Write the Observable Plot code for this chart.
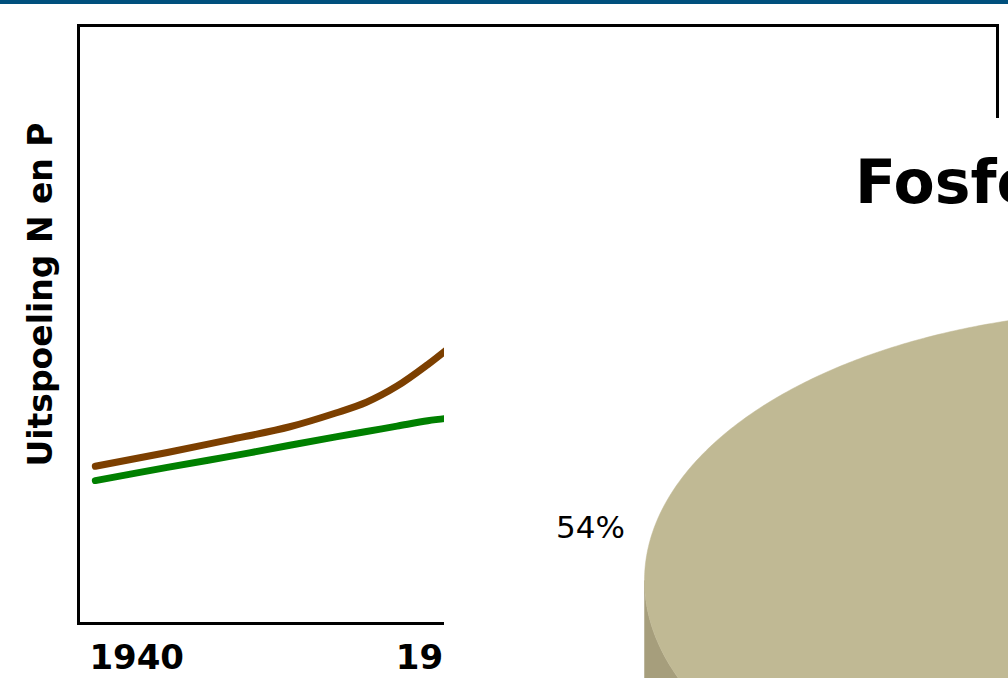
<!DOCTYPE html>
<html>
<head>
<meta charset="utf-8">
<script src="https://cdn.jsdelivr.net/npm/d3@7"></script>
<script src="https://cdn.jsdelivr.net/npm/@observablehq/plot@0.6"></script>
<style>
  html, body { margin: 0; padding: 0; background: #fff; }
  body { width: 1008px; height: 678px; position: relative; overflow: hidden; font-family: "DejaVu Sans", sans-serif; }
  #topbar { position: absolute; left: 0; top: 0; width: 1008px; height: 4px; background: #00507d; z-index: 5; }
  #lines { position: absolute; left: 0; top: 0; }
  #panel { position: absolute; left: 444px; top: 118px; width: 564px; height: 560px; background: #fff; overflow: hidden; }
  #pie { position: absolute; left: 0; top: 0; width: 1200px; }
  #pie svg, #lines svg { max-width: none; }
  #pietitle { position: absolute; left: 411px; top: 34px; font: bold 60px/1 "DejaVu Sans", sans-serif; color: #000; white-space: nowrap; z-index: 2; }
  #lines svg text { font-weight: bold; }
</style>
</head>
<body>
<div id="topbar"></div>
<div id="lines"></div>
<div id="panel">
  <div id="pie"></div>
  <div id="pietitle"></div>
</div>
<script>
// ---- Line chart: leaching of N and P over the years ----
const years      = [1937.3, 1942, 1946, 1950, 1953, 1955, 1957, 1959, 1960.2];
const brownLine  = [26.3, 28.6, 30.7, 32.9, 35.2, 37.0, 39.7, 43.3, 45.7];
const greenLine  = [23.9, 26.1, 27.9, 29.8, 31.2, 32.1, 33.0, 33.9, 34.3];
const xTicks     = [1940, 1960, 1980];
const yLabel     = "Uitspoeling N en P";

// ---- Pie chart: phosphorus shares ----
const pieValues  = [54, 46];
const pieTitle   = "Fosfor";

const brownRows = years.map((year, i) => ({year, value: brownLine[i]}));
const greenRows = years.map((year, i) => ({year, value: greenLine[i]}));

const lineChart = Plot.plot({
  width: 1008,
  height: 678,
  marginLeft: 78,
  marginTop: 25,
  marginRight: 11,
  marginBottom: 55,
  style: {fontFamily: "DejaVu Sans", background: "transparent", color: "#000", overflow: "visible"},
  x: {domain: [1936.2, 1996.2]},
  y: {domain: [0, 100], axis: null},
  marks: [
    Plot.line(brownRows, {x: "year", y: "value", stroke: "#7c3f00", strokeWidth: 7, strokeLinecap: "round", curve: "catmull-rom"}),
    Plot.line(greenRows, {x: "year", y: "value", stroke: "#008000", strokeWidth: 7, strokeLinecap: "round", curve: "catmull-rom"}),
    Plot.frame({stroke: "#000", strokeWidth: 3}),
    Plot.axisX({ticks: xTicks, tickFormat: d => String(d), tickSize: 0, tickPadding: 21, fontSize: 34, fontWeight: "bold", label: null}),
    Plot.text([yLabel], {text: d => d, frameAnchor: "left", rotate: -90, dx: -37, dy: -30, fontSize: 33, fontWeight: "bold", textAnchor: "middle", lineAnchor: "middle", fill: "#000"})
  ]
});
document.getElementById("lines").append(lineChart);

// ---- 3D pie geometry (x in units of the horizontal radius, y in units of the vertical radius, y down) ----
const startDeg = 182.8;
const depth = 0.45;
const labelRadius = 1.125;
const topColors  = ["#c0b994", "#938b64"];
const sideColors = ["#a69e7c", "#7a7352"];

const arcs = d3.pie().sort(null).value(d => d)
  .startAngle(startDeg * Math.PI / 180)
  .endAngle(startDeg * Math.PI / 180 + 2 * Math.PI)(pieValues);

const onRim = (t, drop = 0) => ({x: Math.sin(t), y: -Math.cos(t) + drop});
const arcPoints = (a0, a1, drop = 0) => {
  const n = Math.max(2, Math.ceil(Math.abs(a1 - a0) / (Math.PI / 360)));
  return d3.range(n + 1).map(k => onRim(a0 + (a1 - a0) * k / n, drop));
};

const topFaces = arcs.map(a => [{x: 0, y: 0}, ...arcPoints(a.startAngle, a.endAngle)]);
const sideFaces = arcs.map(a => {
  const polys = [];
  for (const w of [0, 2 * Math.PI]) {
    const lo = Math.max(a.startAngle, Math.PI / 2 + w);
    const hi = Math.min(a.endAngle, 3 * Math.PI / 2 + w);
    if (lo < hi) polys.push([...arcPoints(lo, hi), ...arcPoints(hi, lo, depth)]);
  }
  return polys;
});

const pieMarks = [];
sideFaces.forEach((polys, i) => polys.forEach(poly =>
  pieMarks.push(Plot.line(poly, {x: "x", y: "y", fill: sideColors[i], stroke: sideColors[i], strokeWidth: 0.5, curve: "linear-closed"}))));
topFaces.forEach((poly, i) =>
  pieMarks.push(Plot.line(poly, {x: "x", y: "y", fill: topColors[i], stroke: topColors[i], strokeWidth: 0.5, curve: "linear-closed"})));
pieMarks.push(Plot.text(arcs, {
  x: a => labelRadius * Math.sin((a.startAngle + a.endAngle) / 2),
  y: a => -labelRadius * Math.cos((a.startAngle + a.endAngle) / 2),
  text: a => `${a.data}%`,
  fontSize: 31, fill: "#000", textAnchor: "middle", lineAnchor: "middle"
}));

const pieChart = Plot.plot({
  width: 1200,
  height: 560,
  margin: 0,
  style: {fontFamily: "DejaVu Sans", background: "transparent", overflow: "visible"},
  x: {domain: [-1.4, 1], range: [0, 1200], axis: null},
  y: {domain: [-1.711, 0.363], range: [0, 560], axis: null},
  marks: pieMarks
});
document.getElementById("pie").append(pieChart);
document.getElementById("pietitle").textContent = pieTitle;
</script>
</body>
</html>
